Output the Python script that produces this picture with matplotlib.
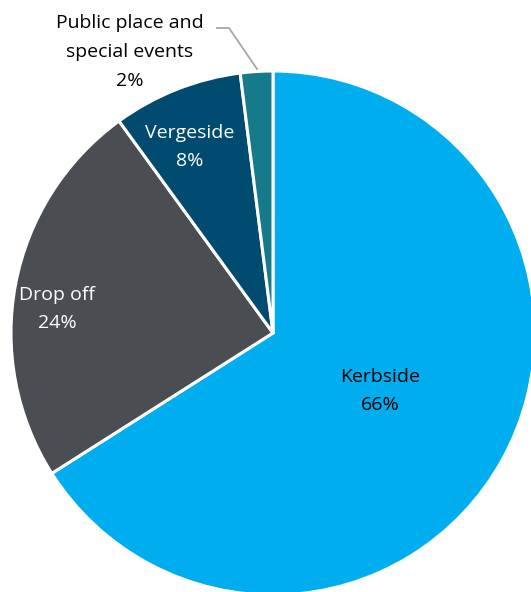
import matplotlib.pyplot as plt

plt.rcParams['font.family'] = ['Open Sans', 'DejaVu Sans']

# waste collection share by service
labels = ['Kerbside', 'Drop off', 'Vergeside', 'Public place and\nspecial events']
shares = [66, 24, 8, 2]
colors = ['#00AEEF', '#4A4D51', '#004B6F', '#167A8B']
text_colors = ['black', 'white', 'white', 'black']

fig = plt.figure(figsize=(5.31, 5.92), dpi=100)
ax = fig.add_axes([0, 0, 1, 1])

cx, cy, r = 273, 333, 262
# y axis runs downward, so start at -90 and go counterclockwise to read clockwise from the top
ax.pie(shares, colors=colors, startangle=-90, counterclock=True,
       center=(cx, cy), radius=r, frame=True,
       wedgeprops=dict(edgecolor='white', linewidth=2.2))
ax.set_xlim(0, 531)
ax.set_ylim(592, 0)
ax.set_aspect('equal')
ax.axis('off')

label_pos = [(380, 391), (57, 309), (190, 147), (130, 52)]
for lab, s, (x, y), tc in zip(labels, shares, label_pos, text_colors):
    ax.text(x, y, f'{lab}\n{s}%', ha='center', va='center', color=tc,
            fontsize=14, linespacing=1.75)

# leader line for the small slice
ax.plot([217, 229, 257], [28, 28, 69], color='#A6A6A6', lw=1.3)

fig.savefig('out.png', dpi=100)
